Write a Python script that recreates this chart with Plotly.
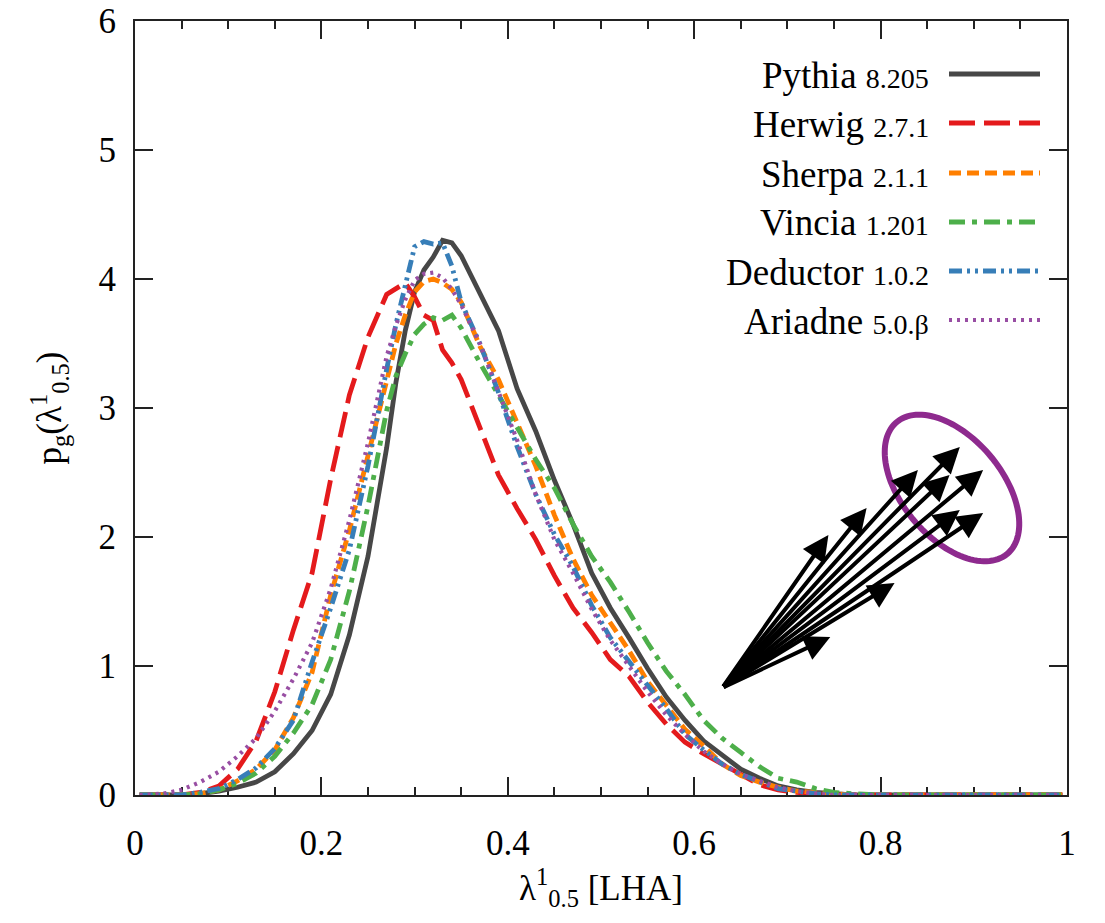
import numpy as np
import plotly.graph_objects as go

# ---------------- data ----------------
X = [0.005, 0.03, 0.05, 0.07, 0.09, 0.11, 0.13, 0.15, 0.17, 0.19,
     0.21, 0.23, 0.25, 0.27, 0.28, 0.29, 0.30, 0.31, 0.32, 0.33,
     0.34, 0.35, 0.37, 0.39, 0.41, 0.43, 0.45, 0.47, 0.49, 0.51,
     0.53, 0.55, 0.57, 0.59, 0.61, 0.63, 0.65, 0.67, 0.69, 0.71,
     0.73, 0.75, 0.77, 0.80, 0.85, 0.90, 0.95, 0.995]

pythia = [0, 0, 0, 0.01, 0.03, 0.06, 0.10, 0.18, 0.32, 0.50,
          0.78, 1.24, 1.85, 2.69, 3.20, 3.60, 3.90, 4.07, 4.17, 4.30,
          4.28, 4.18, 3.90, 3.60, 3.15, 2.82, 2.44, 2.10, 1.72, 1.45,
          1.22, 0.98, 0.76, 0.58, 0.42, 0.31, 0.20, 0.13, 0.07, 0.04,
          0.02, 0.01, 0, 0, 0, 0, 0, 0]
herwig = [0, 0, 0, 0.02, 0.07, 0.20, 0.42, 0.80, 1.28, 1.72,
          2.45, 3.10, 3.55, 3.88, 3.93, 3.97, 3.86, 3.72, 3.68, 3.45,
          3.35, 3.22, 2.85, 2.48, 2.22, 1.98, 1.70, 1.45, 1.26, 1.05,
          0.92, 0.72, 0.55, 0.41, 0.32, 0.24, 0.15, 0.08, 0.04, 0.02,
          0.01, 0, 0, 0, 0, 0, 0, 0]
sherpa = [0, 0, 0, 0.01, 0.04, 0.11, 0.20, 0.35, 0.60, 0.95,
          1.55, 2.05, 2.62, 3.19, 3.50, 3.72, 3.90, 3.98, 4.00, 3.97,
          3.92, 3.82, 3.48, 3.22, 2.88, 2.55, 2.17, 1.83, 1.55, 1.33,
          1.12, 0.88, 0.70, 0.51, 0.38, 0.24, 0.15, 0.10, 0.06, 0.03,
          0.02, 0.01, 0, 0, 0, 0, 0, 0]
vincia = [0, 0, 0, 0.01, 0.04, 0.09, 0.17, 0.30, 0.48, 0.70,
          1.05, 1.58, 2.24, 2.98, 3.25, 3.42, 3.57, 3.65, 3.70, 3.68,
          3.72, 3.62, 3.35, 3.10, 2.85, 2.60, 2.38, 2.10, 1.85, 1.65,
          1.42, 1.18, 0.96, 0.78, 0.58, 0.44, 0.33, 0.22, 0.13, 0.10,
          0.05, 0.02, 0.01, 0, 0, 0, 0, 0]
deductor = [0, 0, 0, 0.02, 0.05, 0.12, 0.21, 0.36, 0.58, 1.03,
            1.45, 1.90, 2.55, 3.30, 3.65, 3.95, 4.25, 4.29, 4.27, 4.28,
            4.10, 3.82, 3.50, 3.12, 2.70, 2.33, 2.02, 1.77, 1.47, 1.22,
            1.03, 0.85, 0.67, 0.47, 0.35, 0.24, 0.16, 0.10, 0.05, 0.03,
            0.01, 0, 0, 0, 0, 0, 0, 0]
ariadne = [0, 0.01, 0.04, 0.10, 0.18, 0.30, 0.44, 0.65, 0.90, 1.18,
           1.60, 2.13, 2.73, 3.40, 3.64, 3.84, 3.99, 4.04, 4.05, 4.01,
           3.92, 3.80, 3.50, 3.12, 2.75, 2.33, 1.98, 1.72, 1.44, 1.20,
           1.00, 0.80, 0.62, 0.47, 0.34, 0.24, 0.16, 0.11, 0.06, 0.03,
           0.01, 0, 0, 0, 0, 0, 0, 0]

names = ["Pythia", "Herwig", "Sherpa", "Vincia", "Deductor", "Ariadne"]
versions = ["8.205", "2.7.1", "2.1.1", "1.201", "1.0.2", "5.0.β"]
values = [pythia, herwig, sherpa, vincia, deductor, ariadne]

x_tick_vals = [0, 0.2, 0.4, 0.6, 0.8, 1]
x_tick_text = ["0", "0.2", "0.4", "0.6", "0.8", "1"]
y_tick_vals = [0, 1, 2, 3, 4, 5, 6]

# decorative arrow bundle (data coordinates)
arrow_origin = (0.630, 0.83)
arrow_tips_x = [0.746, 0.815, 0.744, 0.785, 0.840, 0.885, 0.874, 0.910, 0.885, 0.910]
arrow_tips_y = [1.225, 1.643, 2.016, 2.225, 2.519, 2.698, 2.481, 2.519, 2.209, 2.186]

# ---------------- styles ----------------
colors = ["#474747", "#e41a1c", "#ff7f00", "#4daf4a", "#377eb8", "#984ea3"]
dashes = ["solid", "26px,9px", "12px,6px", "16px,7px,5px,7px",
          "13px,5px,3px,5px,3px,5px", "3px,5px"]
widths = [4.8, 4.8, 4.8, 4.8, 4.8, 4.2]

FONT = "Liberation Serif"
W, H = 1105, 923
ML, MR, MT, MB = 135, 38, 21, 128
PW, PH = W - ML - MR, H - MT - MB

fig = go.Figure()
for nm, yv, c, d, w in zip(names, values, colors, dashes, widths):
    fig.add_trace(go.Scatter(x=X, y=yv, mode="lines", name=nm,
                             line=dict(color=c, width=w, dash=d),
                             showlegend=False, hoverinfo="skip"))

# custom legend: text on the left, line sample on the right
shapes = []
annotations = []
legend_rows_px = [74, 123, 173, 222, 271, 320]
for nm, ver, c, d, w, row in zip(names, versions, colors, dashes, widths, legend_rows_px):
    yp = (PH + MT - row) / PH
    shapes.append(dict(type="line", xref="paper", yref="paper",
                       x0=(949 - ML) / PW, x1=(1040 - ML) / PW, y0=yp, y1=yp,
                       line=dict(color=c, width=w, dash=d)))
    annotations.append(dict(xref="paper", yref="paper", x=(931 - ML) / PW,
                            y=(PH + MT - row - 1) / PH, xanchor="right", yanchor="middle",
                            showarrow=False,
                            text=f"{nm} <span style='font-size:28px'>{ver}</span>",
                            font=dict(family=FONT, size=37, color="black")))

# arrows
for tx, ty in zip(arrow_tips_x, arrow_tips_y):
    annotations.append(dict(x=tx, y=ty, ax=arrow_origin[0], ay=arrow_origin[1],
                            xref="x", yref="y", axref="x", ayref="y",
                            text="", showarrow=True, arrowhead=2, arrowsize=1.3,
                            arrowwidth=4, arrowcolor="black", standoff=0, startstandoff=0))

# purple ellipse (decoration), defined in pixels then mapped to data units
cx, cy = 0.8766, 2.380
a_px, b_px, ang = 86, 50, np.deg2rad(50)
t = np.linspace(0, 2 * np.pi, 120)
ex_px = a_px * np.cos(t) * np.cos(ang) - b_px * np.sin(t) * np.sin(ang)
ey_px = a_px * np.cos(t) * np.sin(ang) + b_px * np.sin(t) * np.cos(ang)
ex = cx + ex_px / PW
ey = cy - ey_px * 6 / PH
path = "M " + " L ".join(f"{u:.5f},{v:.5f}" for u, v in zip(ex, ey)) + " Z"
shapes.append(dict(type="path", xref="x", yref="y", path=path,
                   line=dict(color="#8e2a8e", width=6)))

axis_color = "#222222"
fig.update_layout(
    width=W, height=H,
    margin=dict(l=ML, r=MR, t=MT, b=MB, pad=0),
    paper_bgcolor="white", plot_bgcolor="white",
    font=dict(family=FONT, size=34, color="black"),
    shapes=shapes, annotations=annotations,
    xaxis=dict(range=[0, 1], tickmode="array", tickvals=x_tick_vals, ticktext=x_tick_text,
               ticks="inside", ticklen=18, tickwidth=1.5, tickcolor=axis_color,
               showline=True, linecolor=axis_color, linewidth=2, mirror="allticks",
               showgrid=False, zeroline=False, layer="below traces", automargin=False,
               minor=dict(tick0=0, dtick=0.05, ticks="inside", ticklen=8, tickwidth=1.5,
                          tickcolor=axis_color, showgrid=False),
               tickfont=dict(family=FONT, size=35, color="black"),
               ticklabelstandoff=16,
               title=dict(text="λ<sup>1</sup><sub>0.5</sub> [LHA]",
                          font=dict(family=FONT, size=35, color="black"), standoff=12)),
    yaxis=dict(range=[0, 6], tickmode="array", tickvals=y_tick_vals,
               ticks="inside", ticklen=18, tickwidth=1.5, tickcolor=axis_color,
               showline=True, linecolor=axis_color, linewidth=2, mirror="allticks",
               showgrid=False, zeroline=False, layer="below traces", automargin=False,
               tickfont=dict(family=FONT, size=35, color="black"),
               ticklabelstandoff=10,
               title=dict(text="p<sub>g</sub>(λ<sup>1</sup><sub>0.5</sub>)",
                          font=dict(family=FONT, size=35, color="black"), standoff=26)),
)

fig.write_html("out.html")
